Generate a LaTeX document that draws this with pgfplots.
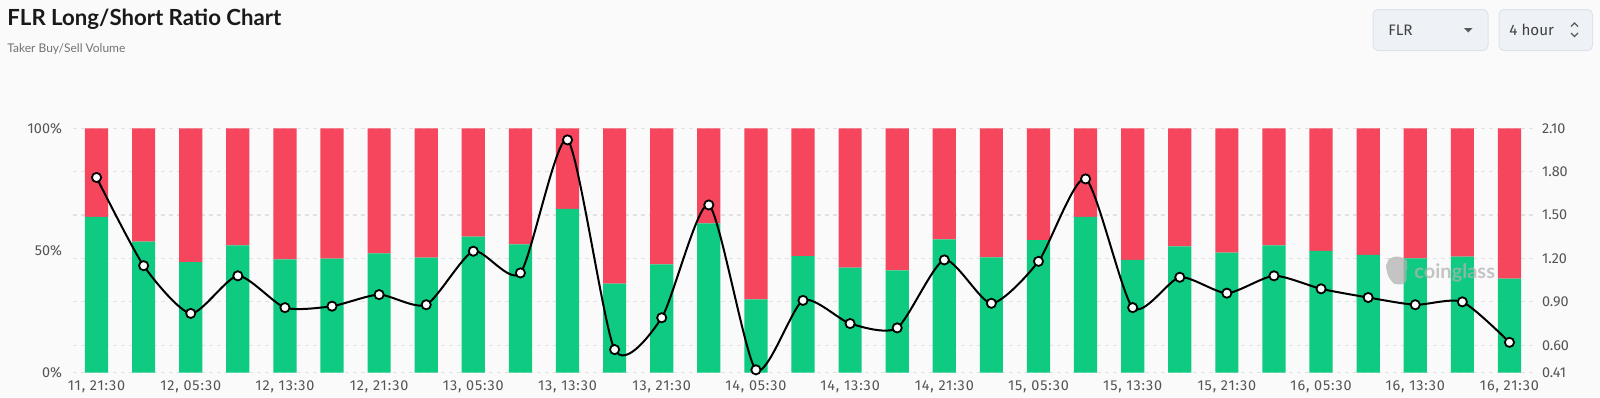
\documentclass[border=0pt]{standalone}
\usepackage{fontspec}
\setmainfont{Lato}
\newfontfamily\tickfont{Fira Sans}
\usepackage{pgfplots}
\pgfplotsset{compat=1.18}
\usepackage{pgfplotstable}
\definecolor{bg}{HTML}{FAFAFA}
\definecolor{longc}{HTML}{0ECB81}
\definecolor{shortc}{HTML}{F6465D}
\definecolor{gridc}{HTML}{E2E2E2}
\definecolor{tickc}{HTML}{555555}
\definecolor{btnfill}{HTML}{EEF2F6}
\definecolor{btndraw}{HTML}{DCE3EA}

\pgfplotstableread{
i long short ratio
0 63.8 36.2 1.76
1 53.6 46.4 1.15
2 45.2 54.8 0.82
3 52.1 47.9 1.08
4 46.4 53.6 0.86
5 46.7 53.3 0.87
6 48.8 51.2 0.95
7 47.1 52.9 0.88
8 55.7 44.3 1.25
9 52.5 47.5 1.10
10 67.0 33.0 2.02
11 36.4 63.6 0.57
12 44.3 55.7 0.79
13 61.1 38.9 1.57
14 30.0 70.0 0.43
15 47.7 52.3 0.91
16 43.0 57.0 0.75
17 41.9 58.1 0.72
18 54.6 45.4 1.19
19 47.2 52.8 0.89
20 54.2 45.8 1.18
21 63.8 36.2 1.75
22 46.2 53.8 0.86
23 51.7 48.3 1.07
24 49.1 50.9 0.96
25 52.1 47.9 1.08
26 49.9 50.1 0.99
27 48.2 51.8 0.93
28 46.8 53.2 0.88
29 47.5 52.5 0.90
30 38.5 61.5 0.62
}\data

\begin{document}
\begin{tikzpicture}
\path[use as bounding box, fill=bg] (0pt,0pt) rectangle (800pt,-198.5pt);

% header
\begin{scope}[x=0.5pt,y=-0.5pt]
\node[anchor=west, inner sep=0pt, text=black!90, font=\bfseries\fontsize{11.1}{13}\selectfont] at (7,19) {FLR Long/Short Ratio Chart};
\node[anchor=west, inner sep=0pt, text=black!55, font=\fontsize{6.0}{7}\selectfont] at (7,49) {Taker Buy/Sell Volume};
% buttons
\draw[btndraw, fill=btnfill, rounded corners=2.5pt, line width=0.5pt] (1373,9.5) rectangle (1488,50.5);
\node[anchor=west, inner sep=0pt, text=black!75, font=\tickfont\fontsize{7.6}{9}\selectfont] at (1388,30) {FLR};
\fill[black!65] (1464,28) -- (1472.5,28) -- (1468.25,32.5) -- cycle;
\draw[btndraw, fill=btnfill, rounded corners=2.5pt, line width=0.5pt] (1499,9.5) rectangle (1592.5,50.5);
\node[anchor=west, inner sep=0pt, text=black!75, font=\tickfont\fontsize{7.6}{9}\selectfont] at (1509,30) {4 hour};
\draw[black!65, line width=0.6pt] (1571,26.5) -- (1574.5,23) -- (1578,26.5);
\draw[black!65, line width=0.6pt] (1571,33) -- (1574.5,36.5) -- (1578,33);
\end{scope}

\begin{axis}[
  at={(36.5pt,-186.35pt)}, anchor=south west,
  scale only axis, width=730pt, height=122.2pt,
  xmin=-0.5, xmax=30.5, ymin=0, ymax=100,
  ybar stacked, bar width=11.6pt,
  axis line style={draw=none}, major tick length=0pt,
  xtick={0,2,...,30},
  xticklabels={{11, 21:30},{12, 05:30},{12, 13:30},{12, 21:30},{13, 05:30},{13, 13:30},{13, 21:30},{14, 05:30},{14, 13:30},{14, 21:30},{15, 05:30},{15, 13:30},{15, 21:30},{16, 05:30},{16, 13:30},{16, 21:30}},
  ytick={0,11.24,28.99,46.75,64.50,82.25,100}, yticklabels={},
  ymajorgrids, grid style={gridc, dash pattern=on 2pt off 2pt, line width=0.6pt},
  extra y ticks={0,50,100}, extra y tick labels={0\%,50\%,100\%},
  extra y tick style={grid=none, yticklabel style={xshift=-2pt}},
  ticklabel style={font=\tickfont\fontsize{7.2}{8}\selectfont, text=tickc},
  xticklabel style={yshift=-0.5pt, font=\tickfont\fontsize{7.2}{8}\selectfont\addfontfeature{LetterSpace=6}},
]
\addplot[fill=longc, draw=none] table[x=i,y=long]{\data};
\addplot[fill=shortc, draw=none] table[x=i,y=short]{\data};
\end{axis}

% watermark
\begin{scope}[x=0.5pt,y=-0.5pt]
\fill[black!30, opacity=0.75, rounded corners=3pt] (1386,262) -- (1392,256) -- (1404,257) -- (1409,264) -- (1405,272) -- (1408,282) -- (1398,286) -- (1390,281) -- (1386,270) -- cycle;
\node[anchor=west, inner sep=0pt, text=black!30, opacity=0.75, font=\bfseries\fontsize{10}{12}\selectfont] at (1414,273) {coinglass};
\end{scope}

\begin{axis}[
  at={(36.5pt,-186.35pt)}, anchor=south west,
  scale only axis, width=730pt, height=122.2pt,
  xmin=-0.5, xmax=30.5, ymin=0.41, ymax=2.10,
  axis x line=none, axis y line*=right,
  axis line style={draw=none}, major tick length=0pt,
  ytick={0.41,0.60,0.90,1.20,1.50,1.80,2.10},
  yticklabels={0.41,0.60,0.90,1.20,1.50,1.80,2.10},
  yticklabel pos=right,
  yticklabel style={anchor=west, xshift=1pt, font=\tickfont\fontsize{7.2}{8}\selectfont, text=tickc},
  clip=false,
]
\addplot[black, line width=1pt, smooth, tension=0.4, mark=*, mark size=2.3pt,
  mark options={fill=white, draw=black, line width=0.9pt}] table[x=i,y=ratio]{\data};
\end{axis}
\end{tikzpicture}
\end{document}
